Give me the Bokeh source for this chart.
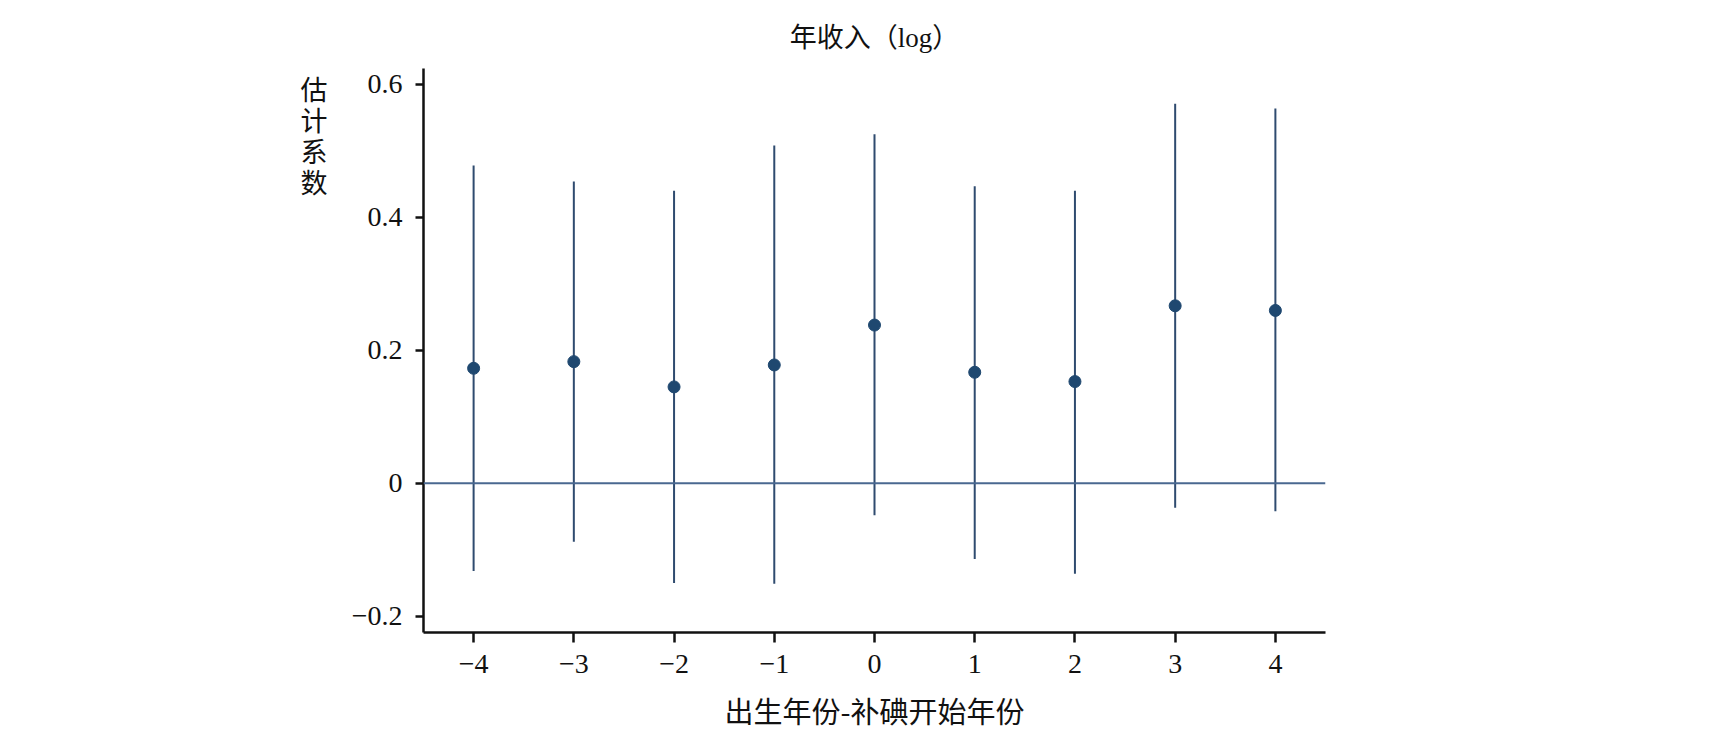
from bokeh.plotting import figure
from bokeh.models import Span, FixedTicker, Range1d, Title, LinearAxis
from bokeh.embed import file_html
from bokeh.resources import INLINE

# ---- data ----
offsets = [-4, -3, -2, -1, 0, 1, 2, 3, 4]
coef = [0.173, 0.183, 0.145, 0.178, 0.238, 0.167, 0.153, 0.267, 0.260]
ci_low = [-0.132, -0.088, -0.150, -0.151, -0.048, -0.114, -0.136, -0.037, -0.042]
ci_high = [0.478, 0.454, 0.440, 0.508, 0.525, 0.447, 0.440, 0.571, 0.564]

x_ticks = [-4, -3, -2, -1, 0, 1, 2, 3, 4]
x_tick_labels = ["−4", "−3", "−2", "−1", "0", "1", "2", "3", "4"]
y_ticks = [-0.2, 0, 0.2, 0.4, 0.6]
y_tick_labels = ["−0.2", "0", "0.2", "0.4", "0.6"]

title_text = "年收入（log）"
x_label = "出生年份-补碘开始年份"
y_label_chars = ["估", "计", "系", "数"]

SERIF = "'Liberation Serif', 'Noto Sans CJK SC'"
CJK = "'Noto Sans CJK SC'"

p = figure(width=1709, height=736, output_backend="svg", toolbar_location=None,
           x_range=Range1d(-4.5, 4.5), y_range=Range1d(-0.2245, 0.624),
           min_border_left=423, min_border_right=384, min_border_top=68,
           min_border_bottom=104)
p.outline_line_color = None
p.xgrid.grid_line_color = None
p.ygrid.grid_line_color = None
p.background_fill_color = "white"
p.border_fill_color = "white"

t = Title(text=title_text, align="center", text_font=SERIF, text_font_size="27px",
          text_font_style="normal", text_color="#111111", standoff=32)
p.add_layout(t, "above")

# zero line
p.add_layout(Span(location=0, dimension="width", line_color="#4a6890", line_width=2))

# error bars and points
p.segment(x0=offsets, y0=ci_low, x1=offsets, y1=ci_high, line_color="#2f4b6f", line_width=2)
p.scatter(x=offsets, y=coef, size=12, fill_color="#1f4870", line_color="#1f4870")

for ax in (p.xaxis[0], p.yaxis[0]):
    ax.axis_line_color = "#111111"
    ax.axis_line_width = 2.5
    ax.major_tick_line_color = "#111111"
    ax.major_tick_line_width = 2.5
    ax.minor_tick_line_color = None
    ax.major_tick_in = 0
    ax.major_label_text_font = SERIF
    ax.major_label_text_font_size = "28px"
    ax.major_label_text_color = "#111111"

p.xaxis.ticker = FixedTicker(ticks=x_ticks)
p.xaxis.major_label_overrides = {k: v for k, v in zip(x_ticks, x_tick_labels)}
p.xaxis.major_tick_out = 10
p.xaxis.major_label_standoff = 12
p.xaxis.axis_label = x_label
p.xaxis.axis_label_text_font = CJK
p.xaxis.axis_label_text_font_size = "29px"
p.xaxis.axis_label_text_font_style = "normal"
p.xaxis.axis_label_text_color = "#111111"
p.xaxis.axis_label_standoff = 13

p.yaxis.ticker = FixedTicker(ticks=y_ticks)
p.yaxis.major_label_overrides = {k: v for k, v in zip(y_ticks, y_tick_labels)}
p.yaxis.major_tick_out = 8
p.yaxis.major_label_standoff = 13

# second, invisible left axis carrying the stacked y label; trailing empty
# lines lift the four characters to the top of the frame
stacked = "\n".join(y_label_chars) + "\n" * 14
lab_axis = LinearAxis(ticker=FixedTicker(ticks=[]),
                      axis_line_color=None, major_tick_line_color=None,
                      minor_tick_line_color=None, major_label_text_font_size="0px",
                      axis_label=stacked, axis_label_orientation="horizontal",
                      axis_label_text_font=CJK, axis_label_text_font_size="27px",
                      axis_label_text_font_style="normal",
                      axis_label_text_color="#111111",
                      axis_label_text_line_height=0.79,
                      axis_label_standoff=21)
p.add_layout(lab_axis, "left")

open("out.html", "w").write(file_html(p, INLINE))
